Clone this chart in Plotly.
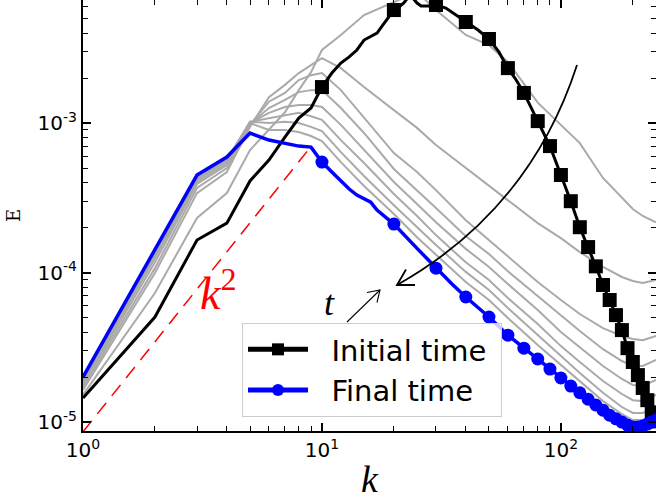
import plotly.graph_objects as go

# ---------------- data ----------------
k_black = [1, 2, 3, 4, 5, 6, 7, 8, 9, 10, 11, 12, 13, 14, 15, 16, 17, 18, 19, 20,
           21, 22, 23, 24, 25, 26, 28, 30, 33, 36, 40, 45, 50, 55, 60, 65, 70, 75,
           80, 90, 100, 110, 120, 130, 140, 150, 160, 170, 180, 190, 200, 210, 220,
           230, 240, 250]
E_black = [1.45e-5, 5.04e-5, 1.65e-4, 2.14e-4, 4.10e-4, 5.66e-4, 8.06e-4, 1.08e-3,
           1.26e-3, 1.74e-3, 2.16e-3, 2.52e-3, 2.77e-3, 3.08e-3, 3.59e-3, 3.82e-3,
           4.00e-3, 4.53e-3, 5.12e-3, 5.70e-3, 5.97e-3, 6.35e-3, 6.96e-3, 6.86e-3,
           6.35e-3, 6.07e-3, 6.07e-3, 6.16e-3, 5.88e-3, 5.36e-3, 4.74e-3, 4.19e-3,
           3.65e-3, 2.99e-3, 2.33e-3, 1.94e-3, 1.59e-3, 1.28e-3, 1.03e-3, 7.01e-4,
           4.49e-4, 3.00e-4, 2.01e-4, 1.48e-4, 1.10e-4, 8.25e-5, 6.55e-5, 5.19e-5,
           4.12e-5, 3.12e-5, 2.52e-5, 2.06e-5, 1.69e-5, 1.40e-5, 1.16e-5, 1.01e-5]

k_blue = [1, 2, 3, 4, 5, 6, 7, 8, 9, 10, 11, 12, 13, 14, 15, 16, 17, 18, 19, 20,
          25, 30, 35, 40, 45, 50, 60, 70, 80, 90, 100, 110, 120, 130, 140, 150,
          160, 170, 180, 190, 200, 210, 220, 230, 240, 250]
E_blue = [2.00e-5, 1.41e-4, 4.49e-4, 5.92e-4, 8.57e-4, 7.69e-4, 7.34e-4, 7.01e-4,
          6.90e-4, 5.48e-4, 4.70e-4, 4.10e-4, 3.62e-4, 3.30e-4, 3.10e-4, 2.96e-4,
          2.62e-4, 2.43e-4, 2.27e-4, 2.11e-4, 1.45e-4, 1.07e-4, 8.38e-5, 6.86e-5,
          5.88e-5, 5.04e-5, 3.81e-5, 3.12e-5, 2.64e-5, 2.26e-5, 1.97e-5, 1.74e-5,
          1.57e-5, 1.42e-5, 1.30e-5, 1.20e-5, 1.11e-5, 1.05e-5, 9.99e-6, 9.54e-6,
          9.25e-6, 9.25e-6, 9.39e-6, 9.69e-6, 9.99e-6, 1.03e-5]

k_grey = [1, 2, 3, 4, 5, 6, 7, 8, 9, 10, 12, 15, 20, 25, 30, 40, 50, 60, 80, 100,
          120, 150, 180, 200, 220, 250]
E_grey1 = [1.52e-5, 7.30e-5, 2.32e-4, 3.40e-4, 6.59e-4, 8.98e-4, 1.18e-3, 1.66e-3,
           2.19e-3, 3.08e-3, 3.88e-3, 5.28e-3, 6.45e-3, 7.52e-3, 5.70e-3, 3.88e-3,
           3.32e-3, 2.56e-3, 1.37e-3, 9.72e-4, 7.34e-4, 4.29e-4, 3.15e-4, 2.66e-4,
           2.39e-4, 2.17e-4]
E_grey2 = [1.64e-5, 9.93e-5, 3.40e-4, 4.70e-4, 9.43e-4, 1.49e-3, 1.80e-3, 2.16e-3,
           2.44e-3, 2.72e-3, 2.33e-3, 1.74e-3, 1.22e-3, 9.28e-4, 7.12e-4, 5.00e-4,
           3.85e-4, 3.05e-4, 2.14e-4, 1.70e-4, 1.37e-4, 1.09e-4, 9.34e-5, 8.77e-5,
           8.51e-5, 8.91e-5]
E_grey3 = [1.71e-5, 1.07e-4, 3.68e-4, 5.00e-4, 9.72e-4, 1.39e-3, 1.59e-3, 1.94e-3,
           2.09e-3, 2.16e-3, 1.66e-3, 1.08e-3, 6.29e-4, 4.70e-4, 3.56e-4, 2.24e-4,
           1.65e-4, 1.27e-4, 8.64e-5, 6.55e-5, 5.28e-5, 4.25e-5, 3.76e-5, 3.59e-5,
           3.53e-5, 3.76e-5]
E_grey4 = [1.77e-5, 1.17e-4, 3.91e-4, 5.24e-4, 9.87e-4, 1.26e-3, 1.43e-3, 1.61e-3,
           1.66e-3, 1.66e-3, 1.26e-3, 8.58e-4, 4.93e-4, 3.56e-4, 2.70e-4, 1.75e-4,
           1.33e-4, 1.02e-4, 6.97e-5, 5.12e-5, 4.06e-5, 3.07e-5, 2.56e-5, 2.37e-5,
           2.37e-5, 2.60e-5]
E_grey5 = [1.82e-5, 1.25e-4, 4.03e-4, 5.40e-4, 1.00e-3, 1.17e-3, 1.28e-3, 1.32e-3,
           1.32e-3, 1.28e-3, 9.72e-4, 6.59e-4, 4.03e-4, 2.87e-4, 2.17e-4, 1.44e-4,
           1.09e-4, 8.38e-5, 5.61e-5, 4.00e-5, 3.17e-5, 2.37e-5, 1.94e-5, 1.77e-5,
           1.74e-5, 1.91e-5]
E_grey6 = [1.88e-5, 1.29e-4, 4.16e-4, 5.57e-4, 1.02e-3, 1.08e-3, 1.13e-3, 1.17e-3,
           1.11e-3, 1.05e-3, 7.69e-4, 5.40e-4, 3.35e-4, 2.39e-4, 1.78e-4, 1.17e-4,
           8.91e-5, 6.75e-5, 4.52e-5, 3.22e-5, 2.52e-5, 1.88e-5, 1.54e-5, 1.40e-5,
           1.38e-5, 1.52e-5]
E_grey7 = [1.91e-5, 1.33e-4, 4.29e-4, 5.66e-4, 1.02e-3, 1.00e-3, 1.02e-3, 1.00e-3,
           9.43e-4, 8.84e-4, 6.39e-4, 4.42e-4, 2.82e-4, 2.01e-4, 1.53e-4, 1.01e-4,
           7.64e-5, 5.79e-5, 3.81e-5, 2.76e-5, 2.13e-5, 1.57e-5, 1.26e-5, 1.15e-5,
           1.15e-5, 1.26e-5]
E_grey8 = [1.97e-5, 1.37e-4, 4.35e-4, 5.74e-4, 1.00e-3, 8.98e-4, 8.98e-4, 8.71e-4,
           8.19e-4, 7.57e-4, 5.48e-4, 3.79e-4, 2.46e-4, 1.72e-4, 1.31e-4, 8.64e-5,
           6.55e-5, 4.96e-5, 3.27e-5, 2.41e-5, 1.85e-5, 1.38e-5, 1.13e-5, 1.03e-5,
           1.03e-5, 1.13e-5]
grey_series = [E_grey1, E_grey2, E_grey3, E_grey4, E_grey5, E_grey6, E_grey7, E_grey8]

k_ref = [1, 9]
E_ref = [8.6e-6, 6.97e-4]

x_tickvals = [1, 10, 100]
x_ticktext = ["10<sup>0</sup>", "10<sup>1</sup>", "10<sup>2</sup>"]
y_tickvals = [1e-5, 1e-4, 1e-3]
y_ticktext = ["10<sup>-5</sup>", "10<sup>-4</sup>", "10<sup>-3</sup>"]

legend_labels = ["Initial time", "Final time"]

# ---------------- figure ----------------
W, H = 656, 500
ML, MR, MT, MB = 83, 0, 0, 69
PW, PH = W - ML - MR, H - MT - MB


def px(xp, yp):
    """pixel position -> paper coordinates (for annotations only)"""
    return (xp - ML) / PW, 1 - (yp - MT) / PH


fig = go.Figure()

for E in grey_series:
    fig.add_trace(go.Scatter(x=k_grey, y=E, mode="lines",
                             line=dict(color="#aaaaaa", width=2),
                             showlegend=False, hoverinfo="skip"))

fig.add_trace(go.Scatter(x=k_ref, y=E_ref, mode="lines",
                         line=dict(color="red", width=1.5, dash="14px,9px"),
                         showlegend=False))

mk_black = [14 if k % 10 == 0 else 0 for k in k_black]
fig.add_trace(go.Scatter(x=k_black, y=E_black, mode="lines+markers",
                         name="&nbsp;&nbsp;" + legend_labels[0] + "&nbsp;",
                         line=dict(color="black", width=3),
                         marker=dict(symbol="square", size=mk_black, color="black",
                                     opacity=1, line=dict(width=0))))

mk_blue = [13 if k % 10 == 0 else 0 for k in k_blue]
fig.add_trace(go.Scatter(x=k_blue, y=E_blue, mode="lines+markers",
                         name="&nbsp;&nbsp;" + legend_labels[1] + "&nbsp;",
                         line=dict(color="#0000ff", width=3.5),
                         marker=dict(symbol="circle", size=mk_blue, color="#0000ff",
                                     opacity=1, line=dict(width=0))))

axis_common = dict(
    type="log", showgrid=False, zeroline=False,
    showline=True, linecolor="black", linewidth=2, mirror="allticks",
    ticks="inside", ticklen=8, tickwidth=1.5, tickcolor="black",
    tickfont=dict(family="DejaVu Sans", size=20, color="black"),
)

fig.update_xaxes(**axis_common, range=[0, 2.398],
                 tickvals=x_tickvals, ticktext=x_ticktext,
                 minor=dict(ticks="inside", ticklen=5, tickwidth=1, tickcolor="black",
                            tickvals=[2, 3, 4, 5, 6, 7, 8, 9, 20, 30, 40, 50, 60, 70,
                                      80, 90, 200], showgrid=False),
                 title=dict(text="<i>k</i>", standoff=6,
                            font=dict(family="Liberation Serif", size=38, color="black")))
fig.update_yaxes(**axis_common, range=[-5.060, -2.177],
                 tickvals=y_tickvals, ticktext=y_ticktext,
                 minor=dict(ticks="inside", ticklen=5, tickwidth=1, tickcolor="black",
                            tickvals=[2e-5, 3e-5, 4e-5, 5e-5, 6e-5, 7e-5, 8e-5, 9e-5,
                                      2e-4, 3e-4, 4e-4, 5e-4, 6e-4, 7e-4, 8e-4, 9e-4,
                                      2e-3, 3e-3, 4e-3, 5e-3, 6e-3], showgrid=False),
                 title=dict(text="E", standoff=12,
                            font=dict(family="DejaVu Serif", size=18, color="black")))

# curved arrow (t direction)
s0 = px(577, 65)
c0 = px(530, 210)
e0 = px(397, 285)
w1 = px(415, 285)
w2 = px(406, 269.5)
shapes = [
    dict(type="path", xref="paper", yref="paper",
         path=f"M {s0[0]} {s0[1]} Q {c0[0]} {c0[1]} {e0[0]} {e0[1]}",
         line=dict(color="black", width=1.8)),
    dict(type="path", xref="paper", yref="paper",
         path=f"M {w1[0]} {w1[1]} L {e0[0]} {e0[1]} L {w2[0]} {w2[1]}",
         line=dict(color="black", width=1.8)),
]
t0 = px(347, 322)
t1 = px(380, 290)
tw1 = px(367, 292.5)
tw2 = px(377, 302.5)
shapes += [
    dict(type="path", xref="paper", yref="paper",
         path=f"M {t0[0]} {t0[1]} L {t1[0]} {t1[1]}",
         line=dict(color="black", width=1.1)),
    dict(type="path", xref="paper", yref="paper",
         path=f"M {tw1[0]} {tw1[1]} L {t1[0]} {t1[1]} L {tw2[0]} {tw2[1]}",
         line=dict(color="black", width=1.1)),
]

ak = px(198, 321)
at = px(329, 325)
annotations = [
    dict(x=ak[0], y=ak[1], xref="paper", yref="paper", showarrow=False,
         text="<i>k</i><sup>2</sup>",
         font=dict(family="Liberation Serif", size=46, color="red")),
    dict(x=at[0], y=at[1], xref="paper", yref="paper", showarrow=False,
         text="<i>t</i>",
         font=dict(family="Liberation Serif", size=36, color="black")),
]

lg = px(242, 323)
fig.update_layout(
    width=W, height=H,
    margin=dict(l=ML, r=MR, t=MT, b=MB, autoexpand=False),
    plot_bgcolor="white", paper_bgcolor="white",
    shapes=shapes, annotations=annotations,
    legend=dict(x=lg[0], y=lg[1], xanchor="left", yanchor="top",
                bgcolor="rgba(255,255,255,0.8)", bordercolor="#cccccc", borderwidth=1,
                font=dict(family="DejaVu Sans", size=29, color="black"),
                itemsizing="constant", itemwidth=60, tracegroupgap=0),
    showlegend=True,
)

fig.write_html("out.html", config={"displayModeBar": False},
               post_script="document.body.style.margin='0px';")
